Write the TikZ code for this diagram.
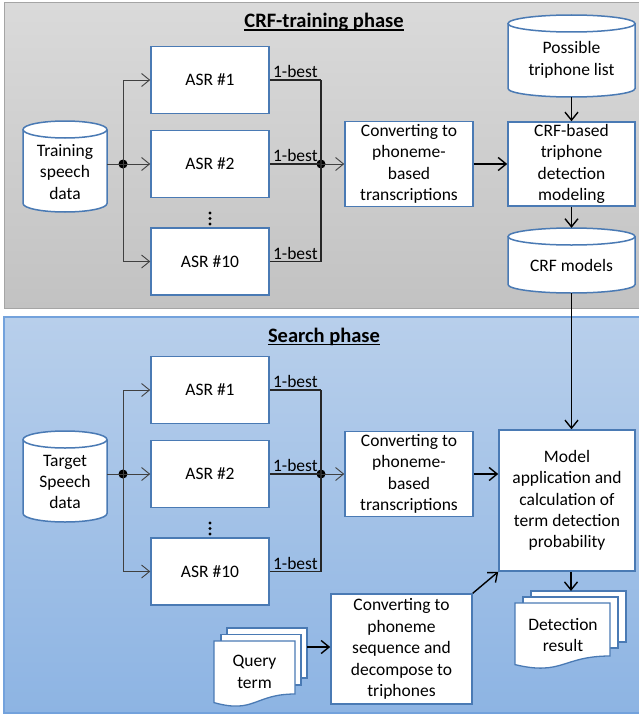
\documentclass[tikz,border=0pt]{standalone}
\usepackage{fontspec}
\setmainfont{Carlito}
\usetikzlibrary{arrows.meta,calc}
\definecolor{boxblue}{RGB}{74,122,180}
\definecolor{panelgrayT}{RGB}{218,218,218}
\definecolor{panelgrayB}{RGB}{194,194,194}
\definecolor{panelgrayE}{RGB}{165,165,165}
\definecolor{panelblueT}{RGB}{184,207,235}
\definecolor{panelblueB}{RGB}{141,180,227}
\definecolor{panelblueE}{RGB}{115,162,220}
\definecolor{linegray}{RGB}{64,64,64}
\tikzset{
  txt/.style={inner sep=0pt, align=center, font=\fontsize{17.5}{21.4}\selectfont},
  box/.style={txt, draw=boxblue, line width=1.5pt, fill=white},
  cylline/.style={draw=boxblue, line width=1.5pt, fill=white},
  docline/.style={draw=boxblue, line width=1.3pt, fill=white},
  titlefont/.style={inner sep=0pt, font=\bfseries\fontsize{20.5}{24}\selectfont},
  thinline/.style={draw=linegray, line width=0.9pt},
  thinarr/.style={thinline, -{Straight Barb[length=8pt,width=13pt,line width=0.9pt]}},
  bestline/.style={draw=black!85, line width=1.1pt},
  thickline/.style={draw=black, line width=1.4pt},
  thickarr/.style={thickline, -{Straight Barb[length=8pt,width=13pt,line width=1.4pt]}},
  jdot/.style={circle, fill=black, inner sep=0pt, minimum size=9pt},
  bestlab/.style={above, inner sep=1.5pt, font=\fontsize{17.5}{21.4}\selectfont},
}
% name, cx, cy, w, h, text y, text
\newcommand\mycyl[7]{%
  \pgfmathsetmacro\cyxl{#2-#4/2}%
  \pgfmathsetmacro\cyxr{#2+#4/2}%
  \pgfmathsetmacro\cyyt{#3-#5/2+8.5}%
  \pgfmathsetmacro\cyyb{#3+#5/2-8.5}%
  \pgfmathsetmacro\cyyc{#3+#5/2-8.5+0.5523*8.5}%
  \pgfmathsetmacro\cyyd{#3+#5/2}%
  \pgfmathsetmacro\cyxa{#2-0.5523*#4/2}%
  \pgfmathsetmacro\cyxb{#2+0.5523*#4/2}%
  \filldraw[cylline] (\cyxl,\cyyt) -- (\cyxl,\cyyb) .. controls (\cyxl,\cyyc) and (\cyxa,\cyyd) .. (#2,\cyyd) .. controls (\cyxb,\cyyd) and (\cyxr,\cyyc) .. (\cyxr,\cyyb) -- (\cyxr,\cyyt);
  \filldraw[cylline] (#2,\cyyt) ellipse [x radius=#4/2, y radius=8.5];
  \node[inner sep=0pt, minimum width=#4, minimum height=#5] (#1) at (#2,#3) {};
  \node[txt] (#1-label) at (#2,#6) {#7};
}
\begin{document}
\begin{tikzpicture}[x=1pt,y=-1pt]
\useasboundingbox (0,0) rectangle (639,717);
\fill[white] (0,0) rectangle (639,717);
\begin{scope}
\clip (0,0) rectangle (639,717);
\shade[top color=panelgrayT, bottom color=panelgrayB] (4,3) rectangle (645,308);
\draw[panelgrayE, line width=1pt] (4,3) rectangle (645,308);
\shade[top color=panelblueT, bottom color=panelblueB] (4,317) rectangle (645,713);
\draw[panelblueE, line width=1.2pt] (4,317) rectangle (645,713);
\end{scope}

% ---------- titles
\node[titlefont, anchor=base] (t1) at (324,27.5) {CRF-training phase};
\draw[line width=1.3pt] ([yshift=-2.5pt]t1.base west) -- ([yshift=-2.5pt]t1.base east);
\node[titlefont, anchor=base] (t2) at (324,342) {Search phase};
\draw[line width=1.3pt] ([yshift=-2.5pt]t2.base west) -- ([yshift=-2.5pt]t2.base east);

% ---------- training phase
\mycyl{tsd}{65}{166.5}{84}{91}{172}{Training\\speech\\data}
\node[box, minimum width=118, minimum height=67] (asr1) at (210,80) {ASR \#1};
\node[box, minimum width=118, minimum height=67] (asr2) at (210,164) {ASR \#2};
\node[box, minimum width=118, minimum height=67] (asr10) at (210,261.5) {ASR \#10};
\foreach \yy in {213,218.5,224} \fill (210,\yy) circle (1.6);
\node[jdot] (j1) at (123,164) {};
\node[jdot] (j2) at (321,164) {};
\node[box, minimum width=128, minimum height=85] (conv1) at (409,164) {Converting to\\phoneme-\\based\\transcriptions};
\node[box, minimum width=127, minimum height=84] (crfb) at (571.5,164) {CRF-based\\triphone\\detection\\modeling};
\mycyl{ptl}{571.5}{56}{127}{82}{60}{Possible\\triphone list}
\mycyl{crfm}{571.5}{260.5}{127}{65}{265}{CRF models}

\draw[thinline] (tsd.east |- j1) -- (j1.center);
\draw[thinline] (j1.center |- asr1) -- (j1.center |- asr10);
\draw[thinarr] (j1.center |- asr1) -- (asr1.west);
\draw[thinarr] (j1.center) -- (asr2.west);
\draw[thinarr] (j1.center |- asr10) -- (asr10.west);
\draw[bestline] (asr1.east) -- (asr1.east -| j2.center) node[bestlab, midway] {1-best};
\draw[bestline] (asr2.east) -- (j2.center) node[bestlab, midway] {1-best};
\draw[bestline] (asr10.east) -- (asr10.east -| j2.center) node[bestlab, midway] {1-best};
\draw[bestline] (j2.center |- asr1) -- (j2.center |- asr10);
\draw[thinarr] (j2.center) -- (conv1.west);
\draw[thickarr] (conv1.east) -- (crfb.west);
\draw[thickarr] (ptl.south) -- (crfb.north);
\draw[thickarr] (crfb.south) -- (crfm.north);

% ---------- search phase
\mycyl{tgd}{65}{476.5}{84}{91}{482}{Target\\Speech\\data}
\node[box, minimum width=118, minimum height=67] (basr1) at (210,390) {ASR \#1};
\node[box, minimum width=118, minimum height=67] (basr2) at (210,474) {ASR \#2};
\node[box, minimum width=118, minimum height=67] (basr10) at (210,571.5) {ASR \#10};
\foreach \yy in {523,528.5,534} \fill (210,\yy) circle (1.6);
\node[jdot] (bj1) at (123,474) {};
\node[jdot] (bj2) at (321,474) {};
\node[box, minimum width=128, minimum height=85] (conv2) at (409,474) {Converting to\\phoneme-\\based\\transcriptions};
\node[box, minimum width=136, minimum height=141] (model) at (567,500.5) {Model\\application and\\calculation of\\term detection\\probability};
\node[box, minimum width=141, minimum height=110] (conv3) at (401.5,649) {Converting to\\phoneme\\sequence and\\decompose to\\triphones};

\draw[thinline] (tgd.east |- bj1) -- (bj1.center);
\draw[thinline] (bj1.center |- basr1) -- (bj1.center |- basr10);
\draw[thinarr] (bj1.center |- basr1) -- (basr1.west);
\draw[thinarr] (bj1.center) -- (basr2.west);
\draw[thinarr] (bj1.center |- basr10) -- (basr10.west);
\draw[bestline] (basr1.east) -- (basr1.east -| bj2.center) node[bestlab, midway] {1-best};
\draw[bestline] (basr2.east) -- (bj2.center) node[bestlab, midway] {1-best};
\draw[bestline] (basr10.east) -- (basr10.east -| bj2.center) node[bestlab, midway] {1-best};
\draw[bestline] (bj2.center |- basr1) -- (bj2.center |- basr10);
\draw[thinarr] (bj2.center) -- (conv2.west);
\draw[thickarr] (conv2.east) -- (conv2.east -| model.west);
\draw[thickarr] (crfm.south) -- (crfm.south |- model.north);
\draw[thickarr] (conv3.north east) -- (model.south west);

% query term stack
\filldraw[docline] (227,628) rectangle (307,678);
\filldraw[docline] (221,634.5) rectangle (301,685);
\filldraw[docline] (214,641) -- (295,641) -- (295,694) .. controls (254.5,694) and (254.5,714) .. (214,702.6) -- cycle;
\node[txt] (query) at (254.5,672) {Query\\term};
\coordinate (qout) at (307,647);
\draw[thickarr] (qout) -- (qout -| conv3.west);

% detection result stack
\filldraw[docline] (531,591) rectangle (626,642);
\filldraw[docline] (523,597) rectangle (618,648);
\filldraw[docline] (515,603) -- (610,603) -- (610,656) .. controls (562.5,656) and (562.5,676) .. (515,664.6) -- cycle;
\node[txt] (detect) at (563,635) {Detection\\result};
\coordinate (dettop) at (571,591);
\draw[thickarr] (model.south -| dettop) -- (dettop);
\end{tikzpicture}
\end{document}
